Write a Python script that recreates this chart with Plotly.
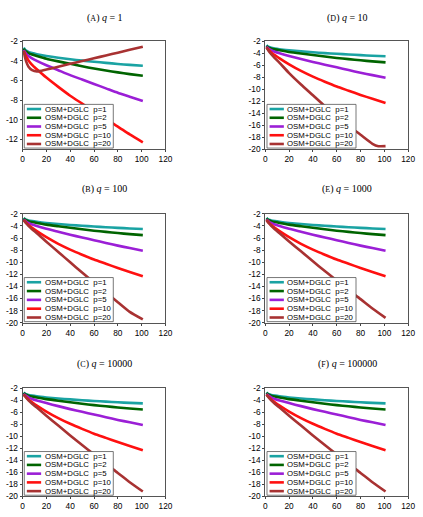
import plotly.graph_objects as go

# ---------------- data ----------------
iters = [1, 2, 3, 5, 8, 12, 20, 30, 40, 50, 60, 70, 80, 90, 101]
iters_d20 = [1, 2, 3, 5, 8, 12, 20, 30, 40, 50, 60, 70, 80, 90, 95, 101]

p1 = [-2.65, -2.85, -2.95, -3.08, -3.2, -3.32, -3.5, -3.68, -3.83, -3.97, -4.09, -4.2, -4.31, -4.41, -4.5]
p2 = [-2.75, -2.95, -3.05, -3.2, -3.35, -3.5, -3.78, -4.05, -4.3, -4.55, -4.78, -4.98, -5.17, -5.35, -5.52]
p5 = [-2.9, -3.1, -3.25, -3.5, -3.75, -4.0, -4.45, -4.95, -5.45, -5.9, -6.35, -6.8, -7.25, -7.65, -8.1]

p10_q1 = [-3.0, -3.3, -3.55, -3.95, -4.4, -4.85, -5.7, -6.65, -7.55, -8.35, -9.15, -9.95, -10.7, -11.5, -12.3]
p10_qhi = [-3.0, -3.25, -3.45, -3.85, -4.3, -4.85, -5.85, -6.95, -7.9, -8.75, -9.55, -10.25, -10.95, -11.6, -12.3]

p20_q1 = [-3.0, -3.6, -4.05, -4.6, -4.95, -5.08, -4.88, -4.6, -4.3, -4.02, -3.73, -3.45, -3.16, -2.87, -2.55]
p20_q10 = [-3.0, -3.35, -3.65, -4.15, -4.8, -5.6, -7.3, -9.2, -11.0, -12.8, -14.5, -16.1, -17.6, -19.1, -19.5, -19.5]
p20_q100 = [-3.0, -3.3, -3.55, -4.0, -4.55, -5.2, -6.6, -8.3, -10.0, -11.7, -13.35, -15.0, -16.6, -18.2, -19.45]
p20_qhi = [-3.0, -3.3, -3.55, -4.0, -4.55, -5.2, -6.55, -8.2, -9.85, -11.45, -13.0, -14.6, -16.1, -17.65, -19.2]

series_names = ["OSM+DGLC\u00a0 p=1", "OSM+DGLC\u00a0 p=2", "OSM+DGLC\u00a0 p=5",
                "OSM+DGLC\u00a0 p=10", "OSM+DGLC\u00a0 p=20"]
colors = ["#1aa3a3", "#006400", "#9b1fd6", "#ff1010", "#a83232"]

panel_titles = ["(<span style='font-size:8px'>A</span>) <i>q</i> = 1",
                "(<span style='font-size:8px'>D</span>) <i>q</i> = 10",
                "(<span style='font-size:8px'>B</span>) <i>q</i> = 100",
                "(<span style='font-size:8px'>E</span>) <i>q</i> = 1000",
                "(<span style='font-size:8px'>C</span>) <i>q</i> = 10000",
                "(<span style='font-size:8px'>F</span>) <i>q</i> = 100000"]

panel_data = [
    [(iters, p1), (iters, p2), (iters, p5), (iters, p10_q1), (iters, p20_q1)],
    [(iters, p1), (iters, p2), (iters, p5), (iters, p10_qhi), (iters_d20, p20_q10)],
    [(iters, p1), (iters, p2), (iters, p5), (iters, p10_qhi), (iters, p20_q100)],
    [(iters, p1), (iters, p2), (iters, p5), (iters, p10_qhi), (iters, p20_qhi)],
    [(iters, p1), (iters, p2), (iters, p5), (iters, p10_qhi), (iters, p20_qhi)],
    [(iters, p1), (iters, p2), (iters, p5), (iters, p10_qhi), (iters, p20_qhi)],
]

x_ticks = [0, 20, 40, 60, 80, 100, 120]
y_ticks_a = [-2, -4, -6, -8, -10, -12]
y_ticks_full = [-2, -4, -6, -8, -10, -12, -14, -16, -18, -20]
y_ranges = [[-13, -2]] + [[-20, -2]] * 5

# ---------------- layout ----------------
W, H = 423, 517
col_x = [(21, 167), (269, 415)]
row_y = [(37, 147), (213, 324), (391, 501)]
title_y = [13, 188, 366]
title_x = [105, 353]

fig = go.Figure()
layout = dict(width=W, height=H, margin=dict(l=0, r=0, t=0, b=0),
              paper_bgcolor="white", plot_bgcolor="white", showlegend=False)
shapes, annotations = [], []

tick_font = dict(family="Liberation Sans", size=8.3, color="black")

for k in range(6):
    r, c = divmod(k, 2)
    idx = "" if k == 0 else str(k + 1)
    xa, ya = "x" + idx, "y" + idx
    x0, x1 = col_x[c]
    yt, yb = row_y[r]
    yt_vals = y_ticks_a if k == 0 else y_ticks_full
    layout["xaxis" + idx] = dict(
        domain=[x0 / W, x1 / W], anchor=ya, range=[0, 120],
        tickvals=x_ticks, ticktext=[str(v) for v in x_ticks],
        ticks="outside", ticklen=2, tickcolor="#444", showgrid=False, zeroline=False,
        showline=True, linecolor="#555", linewidth=1, mirror=True,
        tickfont=tick_font)
    layout["yaxis" + idx] = dict(
        domain=[1 - yb / H, 1 - yt / H], anchor=xa, range=y_ranges[k],
        tickvals=yt_vals, ticktext=[str(v) for v in yt_vals],
        ticks="outside", ticklen=2, tickcolor="#444", showgrid=False, zeroline=False,
        showline=True, linecolor="#555", linewidth=1, mirror=True,
        tickfont=tick_font)

    for s, (xs, ys) in enumerate(panel_data[k]):
        fig.add_trace(go.Scatter(x=xs, y=ys, mode="lines", xaxis=xa, yaxis=ya,
                                 line=dict(color=colors[s], width=2.6, shape="spline", smoothing=0.6),
                                 name=series_names[s], showlegend=False))

    # panel title
    annotations.append(dict(text=panel_titles[k], xref="paper", yref="paper",
                            x=title_x[c] / W, y=1 - title_y[r] / H, xanchor="center", yanchor="middle",
                            showarrow=False, font=dict(family="Liberation Serif", size=10, color="black")))

    # custom legend box
    xd, yd = xa + " domain", ya + " domain"
    shapes.append(dict(type="rect", xref=xd, yref=yd, x0=0.012, x1=0.635, y0=0.01, y1=0.415,
                       fillcolor="white", line=dict(color="#555", width=0.8), layer="above"))
    for s in range(5):
        yc = 0.372 - s * 0.081
        shapes.append(dict(type="line", xref=xd, yref=yd, x0=0.03, x1=0.13, y0=yc, y1=yc,
                           line=dict(color=colors[s], width=2.6), layer="above"))
        annotations.append(dict(text=series_names[s], xref=xd, yref=yd, x=0.14, y=yc,
                                xanchor="left", yanchor="middle", showarrow=False,
                                font=dict(family="Liberation Sans", size=7.8, color="black")))

layout["shapes"] = shapes
layout["annotations"] = annotations
fig.update_layout(**layout)
fig.write_html("out.html")
